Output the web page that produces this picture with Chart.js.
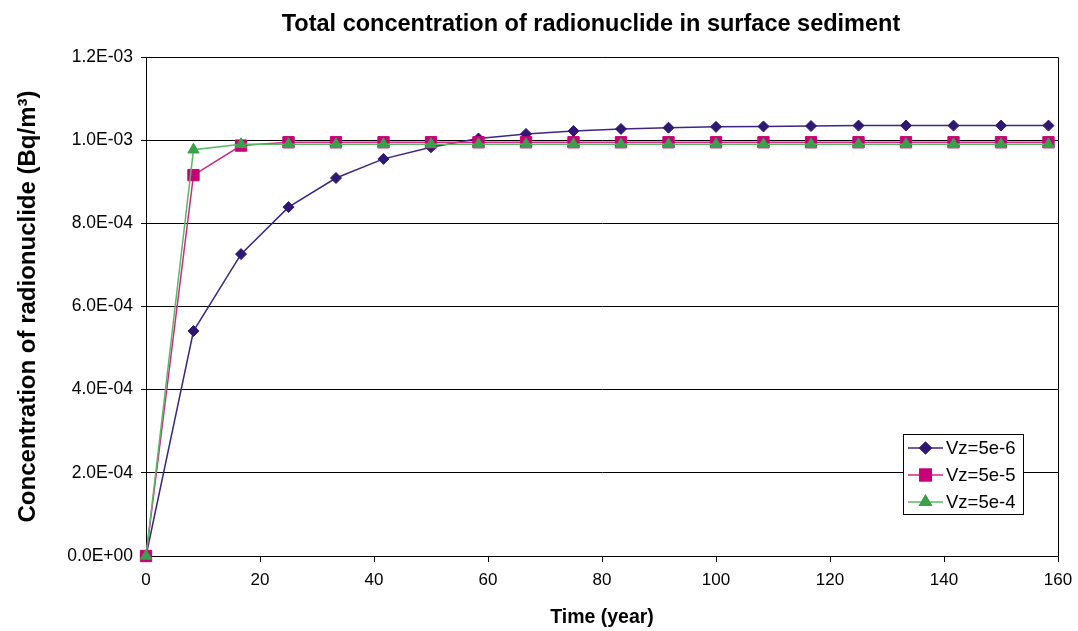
<!DOCTYPE html>
<html lang="en">
<head>
	<meta charset="UTF-8">
	<title>Total concentration of radionuclide in surface sediment</title>
	<script src="https://cdn.jsdelivr.net/npm/chart.js@4/dist/chart.umd.min.js"></script>
	<style>
		body { margin: 0; background: #fff; }
		#wrap { width: 1078px; height: 631px; }
	</style>
</head>

<body>
	<div id="wrap">
		<canvas id="chart1" width="1078" height="631"></canvas>
	</div>

<!-- ------------------------------ data ------------------------------ -->
	<script>
		// time points (year)
		const years = [0, 8.33, 16.67, 25, 33.33, 41.67, 50, 58.33, 66.67, 75,
			83.33, 91.67, 100, 108.33, 116.67, 125, 133.33, 141.67, 150, 158.33];

		// concentration (Bq/m3)
		const vz5e6 = [0, 0.000541, 0.000726, 0.000839, 0.000909, 0.000955, 0.000983, 0.001004, 0.001015, 0.001022,
			0.001027, 0.001030, 0.001032, 0.001033, 0.001034, 0.001035, 0.001035, 0.001035, 0.001035, 0.001035];
		const vz5e5 = [0, 0.000916, 0.000987, 0.000995, 0.000995, 0.000995, 0.000995, 0.000995, 0.000995, 0.000995,
			0.000995, 0.000995, 0.000995, 0.000995, 0.000995, 0.000995, 0.000995, 0.000995, 0.000995, 0.000995];
		const vz5e4 = [0, 0.000977, 0.000990, 0.000990, 0.000990, 0.000990, 0.000990, 0.000990, 0.000990, 0.000990,
			0.000990, 0.000990, 0.000990, 0.000990, 0.000990, 0.000990, 0.000990, 0.000990, 0.000990, 0.000990];

		const seriesNames = ['Vz=5e-6', 'Vz=5e-5', 'Vz=5e-4'];

		// axis ticks
		const xTicks = [0, 20, 40, 60, 80, 100, 120, 140, 160];
		const yTicks = [0, 0.0002, 0.0004, 0.0006, 0.0008, 0.0010, 0.0012];

		const FONT = "'Liberation Sans', Arial, sans-serif";
	</script>

<!-- ------------------------------ config ------------------------------ -->
	<script>
		function pts(ys) {
			return years.map((x, i) => ({ x: x, y: ys[i] }));
		}

		// 1.2E-03 style
		function sci(v) {
			if (Math.abs(v) < 1e-12) return '0.0E+00';
			const parts = v.toExponential(1).split('e');
			const n = parseInt(parts[1], 10);
			return parts[0] + 'E' + (n < 0 ? '-' : '+') + String(Math.abs(n)).padStart(2, '0');
		}

		const styles = [
			{ line: '#3d2585', fill: '#2f1872', shape: 'rectRot', r: 5.5 },
			{ line: '#d0288a', fill: '#c8007a', shape: 'rect', r: 8 },
			{ line: '#5ab864', fill: '#3aa04a', shape: 'triangle', r: 6.5 }
		];

		const seriesData = [vz5e6, vz5e5, vz5e4];

		const datasets = seriesData.map((ys, i) => ({
			label: seriesNames[i],
			data: pts(ys),
			showLine: true,
			borderColor: styles[i].line,
			borderWidth: 1.5,
			pointStyle: styles[i].shape,
			pointRadius: styles[i].r,
			pointHoverRadius: styles[i].r,
			pointBackgroundColor: styles[i].fill,
			pointBorderColor: styles[i].fill,
			pointBorderWidth: 1,
			clip: false,
			order: 3 - i
		}));

		// title, plot frame and boxed legend
		const extras = {
			id: 'extras',
			afterDraw(chart) {
				const ctx = chart.ctx;
				const a = chart.chartArea;
				ctx.save();

				// frame
				ctx.strokeStyle = '#000';
				ctx.lineWidth = 1;
				ctx.beginPath();
				ctx.moveTo(Math.round(a.left) + 0.5, Math.round(a.top) + 0.5);
				ctx.lineTo(Math.round(a.right) + 0.5, Math.round(a.top) + 0.5);
				ctx.lineTo(Math.round(a.right) + 0.5, Math.round(a.bottom) + 0.5);
				ctx.stroke();

				// title
				ctx.fillStyle = '#000';
				ctx.font = 'bold 23.5px ' + FONT;
				ctx.textAlign = 'center';
				ctx.textBaseline = 'middle';
				ctx.fillText('Total concentration of radionuclide in surface sediment', 591, 25);

				// legend
				const bx = 903.5, by = 434.5, bw = 120, bh = 80;
				ctx.fillStyle = '#fff';
				ctx.fillRect(bx, by, bw, bh);
				ctx.strokeStyle = '#000';
				ctx.strokeRect(bx, by, bw, bh);
				ctx.font = '18.5px ' + FONT;
				ctx.textAlign = 'left';
				seriesNames.forEach((name, i) => {
					const y = 448 + i * 27;
					ctx.strokeStyle = styles[i].line;
					ctx.lineWidth = 1.5;
					ctx.beginPath();
					ctx.moveTo(908, y);
					ctx.lineTo(943, y);
					ctx.stroke();
					Chart.helpers.drawPoint(ctx, {
						pointStyle: styles[i].shape,
						radius: styles[i].r,
						borderWidth: 1
					}, 925.5, y);
					ctx.fillStyle = styles[i].fill;
					ctx.strokeStyle = styles[i].fill;
					ctx.fill();
					ctx.stroke();
					ctx.fillStyle = '#000';
					ctx.fillText(name, 946, y + 1);
				});
				ctx.restore();
			}
		};

		const config = {
			type: 'scatter',
			data: { datasets: datasets },
			options: {
				responsive: false,
				animation: false,
				layout: { padding: { top: 57, right: 20, bottom: 0, left: 0 } },
				plugins: {
					legend: { display: false },
					title: { display: false },
					tooltip: { enabled: false }
				},
				scales: {
					x: {
						type: 'linear',
						min: xTicks[0],
						max: xTicks[xTicks.length - 1],
						afterBuildTicks: (s) => { s.ticks = xTicks.map(v => ({ value: v })); },
						afterFit: (s) => { s.height = 75; s.paddingLeft = 0; s.paddingRight = 0; },
						grid: { drawOnChartArea: false, drawTicks: true, tickLength: 6, color: '#000' },
						border: { color: '#000', width: 1 },
						ticks: { color: '#000', padding: 8, font: { family: FONT, size: 17 }, maxRotation: 0 },
						title: {
							display: true,
							text: 'Time (year)',
							color: '#000',
							font: { family: FONT, size: 19.5, weight: 'bold' },
							padding: { top: 0, bottom: 2 }
						}
					},
					y: {
						type: 'linear',
						min: yTicks[0],
						max: yTicks[yTicks.length - 1],
						afterBuildTicks: (s) => { s.ticks = yTicks.map(v => ({ value: v })); },
						afterFit: (s) => { s.width = 146; },
						grid: { color: '#000', lineWidth: 1, tickLength: 5 },
						border: { color: '#000', width: 1 },
						ticks: {
							color: '#000',
							padding: 8,
							font: { family: FONT, size: 17.5 },
							callback: (v) => sci(v)
						},
						title: {
							display: true,
							text: 'Concentration of radionuclide (Bq/m\u00b3)',
							color: '#000',
							font: { family: FONT, size: 24, weight: 'bold' },
							padding: { top: 14, bottom: 0 }
						}
					}
				}
			},
			plugins: [extras]
		};
	</script>

<!-- ------------------------------ draw ------------------------------ -->
	<script>
		const ctx = document.getElementById('chart1').getContext('2d');
		const resultChart = new Chart(ctx, config);
	</script>
</body>
</html>
